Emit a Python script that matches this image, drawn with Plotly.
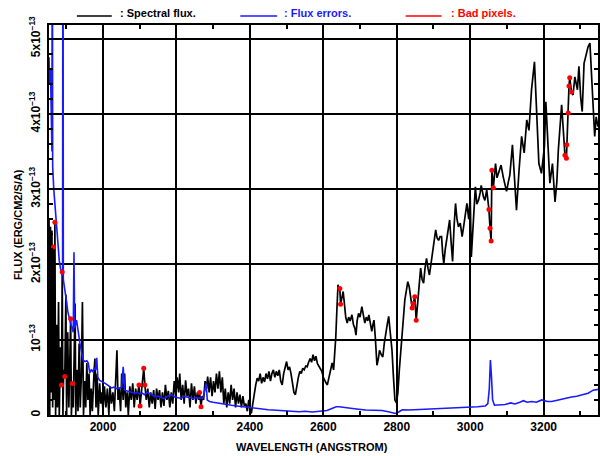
import numpy as np
import plotly.graph_objects as go

# Spectral flux (wavelength in Angstrom, flux in units of 1e-13 erg/cm2/s/A)
flux_wl = [
    1853, 1855, 1857, 1859, 1861, 1863, 1865, 1867, 1869, 1871, 1874, 1876, 1879, 1881,
    1884, 1887, 1889, 1891, 1893, 1896, 1899, 1901, 1904, 1907, 1910, 1912, 1914, 1917,
    1919, 1922, 1924, 1926, 1929, 1932, 1935, 1938, 1941, 1944, 1947, 1950, 1953, 1956,
    1959, 1962, 1965, 1968, 1971, 1975, 1978, 1981, 1984, 1987, 1991, 1994, 1997, 2000,
    2004, 2008, 2012, 2016, 2019, 2023, 2027, 2031, 2035, 2038, 2041, 2044, 2048, 2051,
    2055, 2059, 2062, 2066, 2069, 2073, 2077, 2081, 2085, 2089, 2093, 2098, 2101, 2105,
    2109, 2111, 2114, 2118, 2122, 2126, 2130, 2134, 2138, 2142, 2146, 2150, 2154, 2158,
    2162, 2166, 2170, 2174, 2178, 2182, 2186, 2190, 2194, 2198, 2202, 2206, 2209, 2213,
    2217, 2221, 2225, 2229, 2233, 2237, 2241, 2245, 2249, 2253, 2257, 2261, 2263, 2267,
    2270, 2274, 2278, 2282, 2285, 2289, 2293, 2297, 2301, 2305, 2309, 2313, 2317, 2321,
    2325, 2329, 2333, 2337, 2341, 2345, 2349, 2353, 2357, 2361, 2365, 2369, 2373, 2377,
    2381, 2385, 2389, 2393, 2397, 2401, 2404, 2408, 2412, 2416, 2420, 2424, 2428, 2432,
    2436, 2440, 2444, 2448, 2452, 2456, 2460, 2464, 2468, 2472, 2476, 2480, 2484, 2488,
    2492, 2496, 2500, 2504, 2508, 2512, 2516, 2520, 2524, 2528, 2532, 2536, 2540, 2544,
    2548, 2552, 2556, 2560, 2564, 2568, 2572, 2576, 2580, 2584, 2588, 2592, 2596, 2600,
    2604, 2608, 2611, 2615, 2619, 2624, 2628, 2631, 2634, 2637, 2640, 2643, 2645, 2647,
    2650, 2654, 2657, 2661, 2665, 2669, 2673, 2678, 2682, 2686, 2689, 2692, 2696, 2700,
    2705, 2709, 2713, 2717, 2721, 2724, 2728, 2732, 2735, 2738, 2742, 2746, 2750, 2753,
    2758, 2762, 2766, 2770, 2774, 2778, 2782, 2787, 2791, 2795, 2799, 2803, 2807, 2811,
    2815, 2819, 2822, 2826, 2830, 2834, 2838, 2842, 2845, 2849, 2853, 2857, 2860, 2865,
    2869, 2873, 2877, 2881, 2885, 2889, 2893, 2897, 2901, 2906, 2910, 2914, 2918, 2922,
    2925, 2928, 2932, 2936, 2940, 2944, 2948, 2952, 2956, 2960, 2964, 2968, 2973, 2978,
    2982, 2987, 2991, 2996, 3000, 3003, 3008, 3014, 3018, 3023, 3027, 3030, 3036, 3040,
    3045, 3051, 3054, 3057, 3059, 3063, 3069, 3073, 3077, 3084, 3090, 3095, 3099, 3104,
    3108, 3115, 3122, 3126, 3133, 3140, 3147, 3154, 3160, 3167, 3175, 3181, 3187, 3194,
    3202, 3206, 3211, 3217, 3224, 3231, 3236, 3240, 3249, 3256, 3258, 3262, 3263, 3267,
    3269, 3271, 3276, 3280, 3285, 3292, 3296, 3301, 3305, 3310, 3316, 3321, 3326, 3330,
    3335, 3339, 3343, 3348,
]
flux_e13 = [
    2.6, 0.0, 2.5, 0.3, 2.45, 0.1, 2.23, 0.2, 2.56, 0.0, 1.2, 0.1, 1.5, 0.0,
    0.9, 0.40, 1.90, 0.0, 0.6, 0.51, 1.6, 0.0, 1.1, 0.1, 0.8, 1.28, 0.0, 0.42,
    0.1, 1.0, 1.48, 0.0, 0.6, 0.05, 0.95, 0.1, 0.5, 1.5, 0.0, 0.45, 0.1, 0.69,
    0.2, 0.55, 0.0, 0.35, 0.05, 0.5, 0.75, 0.1, 0.55, 0.0, 0.42, 0.15, 0.3, 0.05,
    0.38, 0.1, 0.35, 0.0, 0.38, 0.15, 0.3, 0.05, 0.5, 0.86, 0.2, 0.35, 0.05, 0.55,
    0.2, 0.55, 0.1, 0.3, 0.0, 0.38, 0.2, 0.42, 0.1, 0.35, 0.2, 0.40, 0.12, 0.3,
    0.45, 0.62, 0.40, 0.2, 0.35, 0.1, 0.3, 0.15, 0.33, 0.08, 0.35, 0.2, 0.33, 0.1,
    0.3, 0.12, 0.4, 0.2, 0.32, 0.1, 0.3, 0.15, 0.45, 0.25, 0.5, 0.3, 0.55, 0.2,
    0.4, 0.15, 0.46, 0.25, 0.35, 0.1, 0.42, 0.2, 0.38, 0.15, 0.3, 0.2, 0.30, 0.11,
    0.25, 0.2, 0.45, 0.35, 0.51, 0.3, 0.5, 0.25, 0.45, 0.3, 0.55, 0.35, 0.58, 0.3,
    0.5, 0.15, 0.35, 0.1, 0.3, 0.15, 0.4, 0.2, 0.35, 0.1, 0.3, 0.15, 0.27, 0.1,
    0.25, 0.12, 0.15, 0.05, 0.2, 0.08, 0.02, 0.15, 0.3, 0.4, 0.49, 0.45, 0.55, 0.42,
    0.5, 0.44, 0.55, 0.48, 0.58, 0.45, 0.55, 0.6, 0.5, 0.58, 0.52, 0.6, 0.45, 0.40,
    0.55, 0.62, 0.71, 0.6, 0.64, 0.55, 0.45, 0.3, 0.27, 0.4, 0.5, 0.58, 0.55, 0.62,
    0.6, 0.65, 0.64, 0.7, 0.75, 0.7, 0.8, 0.72, 0.78, 0.68, 0.64, 0.6, 0.58, 0.5,
    0.45, 0.42, 0.40, 0.5, 0.6, 0.69, 0.6, 0.8, 1.04, 1.4, 1.73, 1.65, 1.68, 1.47,
    1.55, 1.64, 1.5, 1.3, 1.22, 1.3, 1.25, 1.33, 1.2, 1.15, 1.06, 1.25, 1.35, 1.3,
    1.44, 1.35, 1.22, 1.3, 1.25, 1.33, 1.2, 1.11, 1.2, 1.26, 1.0, 0.66, 0.75, 0.86,
    0.8, 0.77, 0.95, 1.11, 1.2, 1.31, 1.1, 0.86, 0.5, 0.2, 0.16, 0.29, 0.6, 0.86,
    1.2, 1.45, 1.53, 1.65, 1.77, 1.7, 1.57, 1.42, 1.48, 1.57, 1.26, 1.5, 1.70, 1.95,
    1.8, 1.75, 1.95, 2.08, 1.95, 1.86, 2.0, 2.15, 2.3, 2.46, 2.35, 2.32, 2.37, 2.37,
    2.15, 2.01, 2.2, 2.32, 2.45, 2.59, 2.3, 2.04, 2.5, 2.81, 2.6, 2.5, 2.55, 2.37,
    2.5, 2.68, 2.81, 2.6, 2.90, 2.1, 2.6, 3.03, 2.8, 2.86, 2.95, 3.05, 2.90, 2.85,
    2.99, 2.73, 2.48, 2.31, 3.25, 3.02, 3.34, 3.15, 3.21, 3.32, 3.16, 3.05, 2.97, 3.1,
    3.19, 3.59, 2.99, 2.72, 3.25, 3.70, 3.48, 3.92, 3.78, 4.32, 4.69, 4.01, 3.34, 3.21,
    3.56, 4.16, 3.61, 3.08, 3.34, 2.83, 3.1, 3.52, 4.12, 3.65, 3.45, 3.41, 3.59, 4.01,
    4.37, 4.48, 4.29, 4.25, 4.49, 4.32, 4.63, 4.21, 4.03, 4.67, 4.78, 4.89, 4.94, 4.58,
    4.01, 3.70, 3.96, 3.83,
]

# Flux errors (same units)
err_wl = [
    1853, 1855, 1857, 1859, 1861, 1862, 1863, 1866, 1869, 1872, 1875, 1878, 1881, 1884,
    1887, 1890, 1891, 1892, 1895, 1898, 1901, 1904, 1907, 1910, 1913, 1916, 1919, 1921,
    1923, 1928, 1932, 1937, 1941, 1946, 1951, 1956, 1960, 1964, 1968, 1972, 1976, 1980,
    1983, 1986, 1991, 1996, 2000, 2006, 2012, 2018, 2023, 2030, 2038, 2046, 2051, 2055,
    2057, 2059, 2066, 2073, 2080, 2086, 2093, 2100, 2107, 2113, 2120, 2127, 2134, 2141,
    2150, 2160, 2168, 2176, 2186, 2195, 2204, 2213, 2220, 2227, 2236, 2245, 2255, 2265,
    2272, 2276, 2281, 2284, 2290, 2300, 2310, 2320, 2335, 2350, 2365, 2380, 2395, 2407,
    2420, 2435, 2450, 2462, 2480, 2500, 2515, 2534, 2550, 2570, 2590, 2610, 2625, 2635,
    2643, 2655, 2670, 2690, 2715, 2740, 2760, 2780, 2796, 2805, 2815, 2833, 2850, 2870,
    2896, 2920, 2950, 2970, 2986, 3005, 3020, 3041, 3048, 3052, 3055, 3058, 3061, 3066,
    3080, 3095, 3110, 3122, 3135, 3145, 3155, 3167, 3180, 3195, 3210, 3222, 3240, 3255,
    3276, 3290, 3305, 3321, 3335, 3348,
]
err_e13 = [
    4.75, 4.4, 4.6, 3.9, 3.5, 8.0, 3.3, 3.0, 2.8, 2.55, 2.35, 2.2, 2.05, 1.95,
    1.9, 1.85, 9.0, 1.8, 1.7, 1.55, 1.5, 1.38, 1.3, 1.25, 1.2, 1.15, 1.1, 2.16,
    1.15, 1.26, 1.1, 0.96, 0.85, 0.73, 0.71, 0.72, 0.69, 0.56, 0.6, 0.58, 0.62, 0.6,
    0.76, 0.5, 0.46, 0.45, 0.44, 0.42, 0.4, 0.38, 0.36, 0.37, 0.35, 0.36, 0.37, 0.64,
    0.4, 0.33, 0.32, 0.31, 0.3, 0.29, 0.3, 0.28, 0.29, 0.27, 0.3, 0.29, 0.27, 0.24,
    0.25, 0.23, 0.22, 0.25, 0.27, 0.24, 0.23, 0.22, 0.25, 0.24, 0.23, 0.22, 0.23, 0.22,
    0.22, 0.3, 0.42, 0.2, 0.18, 0.17, 0.16, 0.15, 0.14, 0.13, 0.12, 0.11, 0.1, 0.09,
    0.085, 0.08, 0.07, 0.066, 0.06, 0.055, 0.05, 0.044, 0.05, 0.04, 0.05, 0.06, 0.09, 0.11,
    0.11, 0.1, 0.09, 0.08, 0.066, 0.06, 0.06, 0.04, 0.02, 0.04, 0.07, 0.066, 0.07, 0.075,
    0.076, 0.08, 0.085, 0.09, 0.1, 0.1, 0.11, 0.12, 0.15, 0.35, 0.73, 0.5, 0.2, 0.13,
    0.13, 0.14, 0.16, 0.146, 0.17, 0.19, 0.17, 0.18, 0.17, 0.2, 0.18, 0.18, 0.2, 0.22,
    0.24, 0.25, 0.27, 0.29, 0.33, 0.34,
]

# Flagged (bad) pixels
bad_wl = [1865, 1869, 1887, 1889, 1896, 1912, 1917, 2098, 2101, 2111, 2114, 2263, 2267,
          2645, 2647, 2842, 2845, 2849, 2853, 3051, 3054, 3057, 3059, 3063,
          3258, 3262, 3263, 3267, 3269, 3271, 3276]
bad_e13 = [2.23, 2.56, 0.40, 1.90, 0.51, 1.28, 0.42, 0.40, 0.12, 0.62, 0.40, 0.30, 0.11,
           1.68, 1.47, 1.42, 1.48, 1.57, 1.26, 2.73, 2.48, 2.31, 3.25, 3.02,
           3.45, 3.41, 3.59, 4.01, 4.37, 4.48, 4.29]

x_ticks = [2000, 2200, 2400, 2600, 2800, 3000, 3200]
x_minor = [1900, 2100, 2300, 2500, 2700, 2900, 3100, 3300]
y_ticks_e13 = [0, 1, 2, 3, 4, 5]
y_ticklabels = ["0", "10<sup>\u221213</sup>", "2x10<sup>\u221213</sup>",
                "3x10<sup>\u221213</sup>", "4x10<sup>\u221213</sup>", "5x10<sup>\u221213</sup>"]

scale = 1e-13
flux = np.array(flux_e13) * scale
err = np.array(err_e13) * scale
bad = np.array(bad_e13) * scale
y_ticks = [v * scale for v in y_ticks_e13]

FONT = "Liberation Sans"

fig = go.Figure()
fig.add_trace(go.Scatter(x=flux_wl, y=flux, mode="lines",
                         line=dict(color="black", width=1.7), showlegend=False))
fig.add_trace(go.Scatter(x=err_wl, y=err, mode="lines",
                         line=dict(color="#1a1aff", width=1.6), showlegend=False))
fig.add_trace(go.Scatter(x=bad_wl, y=bad, mode="markers",
                         marker=dict(color="#ff0000", size=5, symbol="circle"),
                         showlegend=False, cliponaxis=True))

axis_common = dict(
    showgrid=True, gridcolor="black", gridwidth=2,
    showline=True, linecolor="black", linewidth=2, mirror="allticks",
    ticks="inside", ticklen=6, tickcolor="black", tickwidth=1.5,
    zeroline=False,
    tickfont=dict(family=FONT, size=12, color="black", weight="bold"),
)

fig.update_layout(
    width=600, height=456,
    margin=dict(l=49, r=0, t=25, b=41),
    paper_bgcolor="white", plot_bgcolor="white",
    xaxis=dict(range=[1853, 3348], tickvals=x_ticks,
               minor=dict(tickvals=x_minor, ticks="inside", ticklen=4,
                          tickcolor="black", tickwidth=1.5, showgrid=False),
               **axis_common),
    yaxis=dict(range=[0, 5.18e-13], tickvals=y_ticks, ticktext=y_ticklabels,
               tickangle=-90, ticklabelstandoff=2,
               minor=dict(dtick=0.2e-13, ticks="inside", ticklen=4,
                          tickcolor="black", tickwidth=1.5, showgrid=False),
               **axis_common),
)

# Axis titles
fig.add_annotation(text="WAVELENGTH (ANGSTROM)", xref="paper", yref="paper",
                   x=(313 - 49) / 551, y=-(447 - 415) / 390, showarrow=False,
                   xanchor="center", yanchor="middle",
                   font=dict(family=FONT, size=11, color="black", weight="bold"))
fig.add_annotation(text="FLUX (ERG/CM2/S/A)", xref="paper", yref="paper",
                   x=-(49 - 18) / 551, y=(415 - 225) / 390, showarrow=False,
                   textangle=-90, xanchor="center", yanchor="middle",
                   font=dict(family=FONT, size=11, color="black", weight="bold"))

# Key across the top
key = [("black", ": Spectral flux.", 77, 112, 118),
       ("#1a1aff", ": Flux errors.", 241, 278, 283),
       ("#ff0000", ": Bad pixels.", 407, 443, 450)]
for color, label, x0, x1, xt in key:
    fig.add_shape(type="line", xref="paper", yref="paper",
                  x0=(x0 - 49) / 551, x1=(x1 - 49) / 551,
                  y0=(415 - 16) / 390, y1=(415 - 16) / 390,
                  line=dict(color=color, width=1.6))
    fig.add_annotation(text=label, xref="paper", yref="paper",
                       x=(xt - 49) / 551, y=(415 - 13) / 390, showarrow=False,
                       xanchor="left", yanchor="middle",
                       font=dict(family=FONT, size=11, color=color, weight="bold"))

fig.write_html("out.html")
